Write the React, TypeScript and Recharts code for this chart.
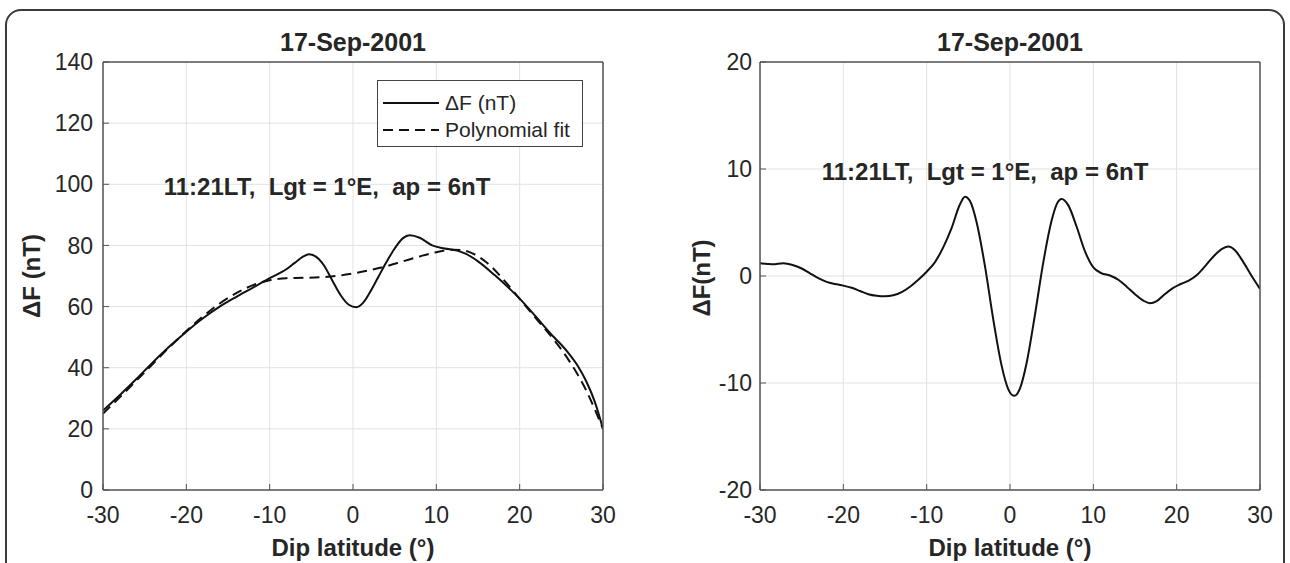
import React from 'react'
import { LineChart, Line, XAxis, YAxis, CartesianGrid, Legend } from 'recharts'

// dip latitude axis, shared by both panels
const latTicks = [-30, -20, -10, 0, 10, 20, 30]
const totalTicks = [0, 20, 40, 60, 80, 100, 120, 140]
const residualTicks = [-20, -10, 0, 10, 20]

// measured ΔF (nT) along the pass
const obsLat = [-30, -28, -26, -24, -22, -20, -18, -16, -14, -12, -10, -8, -7, -6, -5.3, -4.5, -3.5, -2.5, -1.5, -0.5, 0.4, 1.2, 2, 3, 4, 5, 6, 6.8, 8, 9.5, 11, 12.5, 13.5, 15, 17, 19, 20, 22, 24, 25, 26, 27, 28, 29, 30]
const obsDF = [26, 31, 36.3, 41.8, 47, 51.8, 56.2, 60, 63.2, 66.2, 69.3, 72.2, 74.3, 76.3, 77.1, 76.4, 73.5, 68.6, 63.8, 60.6, 59.8, 61.2, 64.5, 69.5, 74.5, 79, 82.4, 83.3, 82.5, 80, 79, 78.3, 77.3, 74.8, 70.3, 65.3, 62.6, 56.5, 50.3, 47.5, 44.3, 40.5, 35.5, 29, 20]

// polynomial fit of the same pass
const fitLat = [-30, -28, -26, -24, -22, -20, -18, -16, -14, -12, -10, -8, -6, -4, -2, 0, 2, 4, 6, 8, 10, 12, 13, 14, 16, 18, 20, 22, 24, 26, 28, 29, 30]
const fitDF = [25, 30.3, 35.8, 41.3, 46.8, 52, 56.8, 61, 64.4, 67, 68.6, 69.3, 69.4, 69.6, 70, 70.8, 71.9, 73.2, 74.8, 76.4, 77.8, 78.6, 78.5, 77.8, 74.5, 69, 62.5, 56, 49.5, 42, 32.5, 26.5, 20]

// residual ΔF after removing the fit
const resLat = [-30, -28.5, -27.2, -26, -25, -24, -23, -22, -21, -20, -19, -18, -17, -16, -15, -14, -13, -12, -11, -10, -9, -8, -7, -6, -5.4, -4.8, -4, -3, -2, -1, -0.2, 0.5, 1.2, 2, 3, 4, 5, 5.6, 6.2, 7, 8, 9, 10, 11, 12, 13, 14, 15, 16, 16.8, 17.6, 18.5, 19.5, 20.5, 21.5, 22.5, 23.5, 24.5, 25.5, 26.2, 27, 28, 29, 30]
const resDF = [1.2, 1.1, 1.2, 1.0, 0.7, 0.25, -0.2, -0.55, -0.75, -0.9, -1.1, -1.4, -1.7, -1.85, -1.9, -1.8, -1.5, -1.0, -0.35, 0.4, 1.3, 2.7, 4.5, 6.7, 7.4, 7.0, 5.0, 0.9, -4.1, -8.4, -10.6, -11.2, -10.5, -8.1, -3.6, 1.3, 5.2, 6.7, 7.2, 6.6, 4.6, 2.3, 0.8, 0.25, 0.05, -0.35, -1.0, -1.7, -2.3, -2.55, -2.35, -1.75, -1.15, -0.75, -0.4, 0.15, 1.0, 1.9, 2.55, 2.75, 2.4, 1.3, 0.0, -1.2]

const legendOrder = ['ΔF (nT)', 'Polynomial fit']

const toRows = (xs: number[], ys: number[]) => xs.map((lat, i) => ({ lat, value: ys[i] }))

const FONT = '"Liberation Sans", Arial, Helvetica, sans-serif'
const INK = '#262626'
const AXIS = '#555'
const GRID = '#e2e2e2'

const LegendBox = ({ payload }: any) => {
  const items = [...(payload || [])].sort(
    (a: any, b: any) => legendOrder.indexOf(a.value) - legendOrder.indexOf(b.value)
  )
  return (
    <div
      style={{
        width: 206,
        height: 67,
        boxSizing: 'border-box',
        border: '1.5px solid #444',
        background: '#fff',
        padding: '8px 0 0 5px',
        fontFamily: FONT,
        fontSize: 21,
        color: INK,
      }}
    >
      {items.map((item: any) => (
        <div key={item.value} style={{ display: 'flex', alignItems: 'center', height: 27 }}>
          <svg width={56} height={10} style={{ marginRight: 6 }}>
            <line
              x1={0}
              y1={5}
              x2={56}
              y2={5}
              stroke="#111"
              strokeWidth={1.8}
              strokeDasharray={item.payload?.strokeDasharray}
            />
          </svg>
          <span style={{ lineHeight: 1 }}>{item.value}</span>
        </div>
      ))}
    </div>
  )
}

// lat axis at the bottom with labels and a top copy carrying only inward ticks
const latAxes = () => [
  <XAxis
    key="xb"
    dataKey="lat"
    type="number"
    domain={[-30, 30]}
    ticks={latTicks}
    interval={0}
    allowDataOverflow
    height={30}
    tickSize={-6}
    tickMargin={23}
    axisLine={{ stroke: AXIS, strokeWidth: 1.5 }}
    tickLine={{ stroke: AXIS }}
    tick={{ fill: INK, fontSize: 23 }}
  />,
  <XAxis
    key="xt"
    xAxisId="top"
    orientation="top"
    dataKey="lat"
    type="number"
    domain={[-30, 30]}
    ticks={latTicks}
    interval={0}
    height={30}
    tickSize={-6}
    axisLine={{ stroke: AXIS, strokeWidth: 1.5 }}
    tickLine={{ stroke: AXIS }}
    tick={false}
  />,
]

const valueAxes = (domain: [number, number], ticks: number[], margin: number) => [
  <YAxis
    key="yl"
    type="number"
    domain={domain}
    ticks={ticks}
    interval={0}
    allowDataOverflow
    width={60}
    tickSize={-6}
    tickMargin={margin}
    axisLine={{ stroke: AXIS, strokeWidth: 1.5 }}
    tickLine={{ stroke: AXIS }}
    tick={{ fill: INK, fontSize: 23 }}
  />,
  <YAxis
    key="yr"
    yAxisId="right"
    orientation="right"
    type="number"
    domain={domain}
    ticks={ticks}
    interval={0}
    width={30}
    tickSize={-6}
    axisLine={{ stroke: AXIS, strokeWidth: 1.5 }}
    tickLine={{ stroke: AXIS }}
    tick={false}
  />,
]

const Txt = ({ x, y, size, bold, rotate, children }: any) => (
  <div
    style={{
      position: 'absolute',
      left: x,
      top: y,
      transform: `translate(-50%, -50%)${rotate ? ' rotate(-90deg)' : ''}`,
      fontSize: size,
      fontWeight: bold ? 'bold' : 'normal',
      lineHeight: 1,
      whiteSpace: 'pre',
      color: INK,
    }}
  >
    {children}
  </div>
)

export default function App() {
  return (
    <div
      style={{
        position: 'absolute',
        left: 0,
        top: 0,
        width: 1290,
        height: 563,
        overflow: 'hidden',
        background: '#fff',
        fontFamily: FONT,
      }}
    >
      <div
        style={{
          position: 'absolute',
          left: 5,
          top: 9,
          width: 1280,
          height: 620,
          boxSizing: 'border-box',
          border: '2px solid #3a3a3a',
          borderRadius: 16,
        }}
      />

      <div style={{ position: 'absolute', left: 0, top: 0 }}>
        <LineChart width={640} height={563} margin={{ top: 32, right: 7, bottom: 43, left: 43 }}>
          <CartesianGrid stroke={GRID} strokeWidth={1} />
          {latAxes()}
          {valueAxes([0, 140], totalTicks, 16)}
          <Line
            data={toRows(obsLat, obsDF)}
            dataKey="value"
            name="ΔF (nT)"
            type="monotone"
            stroke="#111"
            strokeWidth={2}
            dot={false}
            isAnimationActive={false}
          />
          <Line
            data={toRows(fitLat, fitDF)}
            dataKey="value"
            name="Polynomial fit"
            type="monotone"
            stroke="#111"
            strokeWidth={2}
            strokeDasharray="10 6"
            dot={false}
            isAnimationActive={false}
          />
          <Legend
            layout="horizontal"
            align="center"
            verticalAlign="middle"
            content={<LegendBox />}
            wrapperStyle={{ position: 'absolute', left: 377, top: 80, width: 206, height: 67 }}
          />
        </LineChart>
      </div>

      <div style={{ position: 'absolute', left: 640, top: 0 }}>
        <LineChart width={650} height={563} margin={{ top: 32, right: 0, bottom: 43, left: 60 }}>
          <CartesianGrid stroke={GRID} strokeWidth={1} />
          {latAxes()}
          {valueAxes([-20, 20], residualTicks, 14)}
          <Line
            data={toRows(resLat, resDF)}
            dataKey="value"
            name="ΔF(nT)"
            type="monotone"
            stroke="#111"
            strokeWidth={2}
            dot={false}
            isAnimationActive={false}
          />
        </LineChart>
      </div>

      <Txt x={353} y={42} size={25} bold>17-Sep-2001</Txt>
      <Txt x={1010} y={42} size={25} bold>17-Sep-2001</Txt>
      <Txt x={327} y={187} size={24} bold>{'11:21LT,  Lgt = 1°E,  ap = 6nT'}</Txt>
      <Txt x={985} y={172} size={24} bold>{'11:21LT,  Lgt = 1°E,  ap = 6nT'}</Txt>
      <Txt x={353} y={548} size={24} bold>Dip latitude (°)</Txt>
      <Txt x={1010} y={548} size={24} bold>Dip latitude (°)</Txt>
      <Txt x={32} y={276} size={24} bold rotate>ΔF (nT)</Txt>
      <Txt x={702} y={278} size={24} bold rotate>ΔF(nT)</Txt>
    </div>
  )
}
